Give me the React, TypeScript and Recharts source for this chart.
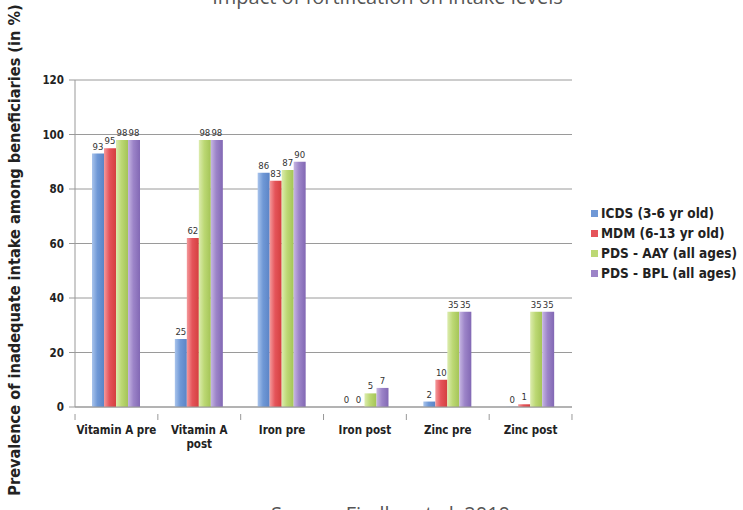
import React from 'react';
import { BarChart, Bar, XAxis, YAxis, CartesianGrid, LabelList } from 'recharts';

const categories = ['Vitamin A pre', 'Vitamin A\npost', 'Iron pre', 'Iron post', 'Zinc pre', 'Zinc post'];
const icds = [93, 25, 86, 0, 2, 0];
const mdm = [95, 62, 83, 0, 10, 1];
const pdsAay = [98, 98, 87, 5, 35, 35];
const pdsBpl = [98, 98, 90, 7, 35, 35];
const yTicks = [0, 20, 40, 60, 80, 100, 120];

const series = [
  { key: 'icds', name: 'ICDS (3-6 yr old)', color: '#6f98d6', light: '#a9c4ec', dark: '#5b84c6' },
  { key: 'mdm', name: 'MDM (6-13 yr old)', color: '#e5545a', light: '#f49a9c', dark: '#d4403f' },
  { key: 'aay', name: 'PDS - AAY (all ages)', color: '#bcd874', light: '#dcecae', dark: '#a4c456' },
  { key: 'bpl', name: 'PDS - BPL (all ages)', color: '#9c84c8', light: '#c6b6e2', dark: '#8268b4' },
];

const data = categories.map((c, i) => ({
  name: c,
  icds: icds[i],
  mdm: mdm[i],
  aay: pdsAay[i],
  bpl: pdsBpl[i],
}));

const FONT = '"DejaVu Sans Condensed", "Liberation Sans Narrow", sans-serif';

// category tick: label lines plus boundary marks like Excel
function CategoryTick(props: any) {
  const { x, y, payload } = props;
  const half = 82.8 / 2;
  const lines = String(payload.value).split('\n');
  return (
    <g>
      <line x1={x - half} y1={y - 1} x2={x - half} y2={y + 5} stroke="#999" />
      {payload.index === categories.length - 1 && (
        <line x1={x + half} y1={y - 1} x2={x + half} y2={y + 5} stroke="#999" />
      )}
      {lines.map((l, i) => (
        <text
          key={i}
          x={x}
          y={y + 19 + i * 14}
          textAnchor="middle"
          fontFamily={FONT}
          fontWeight="bold"
          fontSize={11.5}
          fill="#222"
        >
          {l}
        </text>
      ))}
    </g>
  );
}

// value label that also shows zeros
function ValueLabel(props: any) {
  const { x, y, width, height, value } = props;
  const top = Math.min(y, y + height);
  return (
    <text x={x + width / 2} y={top - 4} textAnchor="middle" fontFamily={FONT} fontSize={9.5} fill="#333">
      {value}
    </text>
  );
}

export default function App() {
  return (
    <div style={{ position: 'absolute', left: 0, top: 0, width: 743, height: 510, overflow: 'hidden', background: '#fff' }}>
      <div
        style={{
          position: 'absolute', left: 0, width: 743, top: -16, textAlign: 'center', paddingLeft: 16,
          fontFamily: '"Open Sans", sans-serif', fontSize: 20, color: '#555', lineHeight: '26px',
        }}
      >
        Impact of fortification on intake levels
      </div>
      <div
        style={{
          position: 'absolute', left: 0, width: 743, top: 501, textAlign: 'center', paddingLeft: 19,
          fontFamily: '"Open Sans", sans-serif', fontSize: 20, color: '#555', lineHeight: '26px',
        }}
      >
        Source: Fiedler et al, 2010
      </div>
      <div style={{ position: 'absolute', left: 14, top: 250, width: 0, height: 0 }}>
        <div
          style={{
            position: 'absolute', transform: 'translate(-50%, -50%) rotate(-90deg)', whiteSpace: 'nowrap',
            fontFamily: FONT, fontWeight: 'bold', fontSize: 16.2, color: '#222',
          }}
        >
          Prevalence of inadequate intake among beneficiaries (in %)
        </div>
      </div>
      <div style={{ position: 'absolute', left: 591, top: 203 }}>
        {series.map((s) => (
          <div key={s.key} style={{ display: 'flex', alignItems: 'center', height: 20 }}>
            <div style={{ width: 7, height: 7, background: s.color, marginRight: 3 }} />
            <span style={{ color: '#222', fontFamily: FONT, fontWeight: 'bold', fontSize: 13.5, whiteSpace: 'nowrap' }}>
              {s.name}
            </span>
          </div>
        ))}
      </div>
      <div style={{ position: 'absolute', left: 0, top: 0 }}>
        <BarChart
          width={743}
          height={510}
          data={data}
          margin={{ top: 80, right: 171, left: 45, bottom: 73 }}
          barSize={12}
          barGap={0}
        >
          <defs>
            {series.map((s) => (
              <linearGradient key={s.key} id={`grad-${s.key}`} x1="0" y1="0" x2="1" y2="0">
                <stop offset="0%" stopColor={s.light} />
                <stop offset="45%" stopColor={s.color} />
                <stop offset="100%" stopColor={s.dark} />
              </linearGradient>
            ))}
          </defs>
          <CartesianGrid vertical={false} stroke="#9a9a9a" />
          <XAxis
            dataKey="name"
            height={30}
            stroke="#999"
            tickLine={false}
            tick={<CategoryTick />}
            interval={0}
          />
          <YAxis
            width={30}
            domain={[0, 120]}
            ticks={yTicks}
            stroke="#999"
            tickSize={6}
            tickMargin={5}
            tick={{ fontFamily: FONT, fontWeight: 'bold', fontSize: 11.5, fill: '#222' }}
          />
          {series.map((s) => (
            <Bar
              key={s.key}
              dataKey={s.key}
              name={s.name}
              fill={`url(#grad-${s.key})`}
              minPointSize={0.2}
              isAnimationActive={false}
            >
              <LabelList dataKey={s.key} content={<ValueLabel />} />
            </Bar>
          ))}
        </BarChart>
      </div>
    </div>
  );
}
